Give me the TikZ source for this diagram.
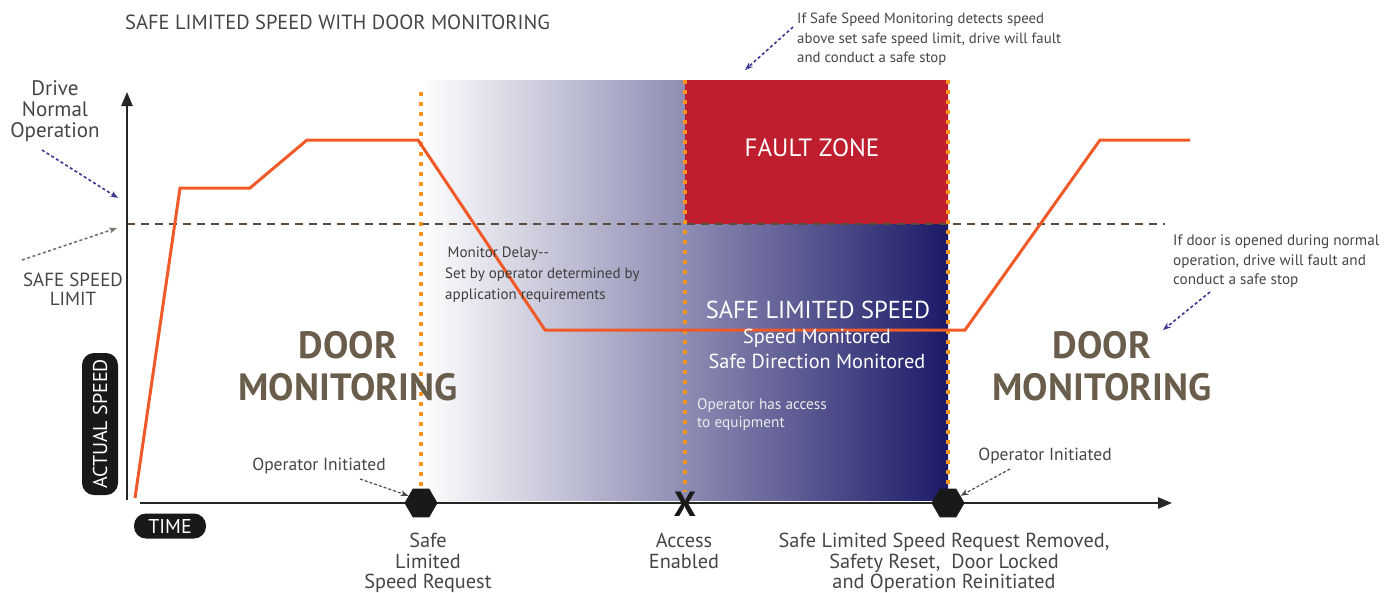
\documentclass[tikz,border=0pt]{standalone}
\usepackage{fontspec}
\setmainfont{PT Sans}
\usetikzlibrary{arrows.meta,shapes.geometric}
\definecolor{speedor}{HTML}{F05A28}
\definecolor{dotor}{HTML}{F7941D}
\definecolor{navy}{HTML}{1C1A68}
\definecolor{midpur}{HTML}{7F77A8}
\definecolor{faultred}{HTML}{BE1E2D}
\definecolor{txtgray}{HTML}{454545}
\definecolor{doorbrown}{HTML}{6B5D4C}
\definecolor{limbrown}{HTML}{5B4B3E}
\definecolor{annblue}{HTML}{3A3590}
\newcommand{\fs}[2]{\fontsize{#1pt}{#2pt}\selectfont}
\begin{document}
\begin{tikzpicture}[x=1pt,y=-1pt,
  lbl/.style={text=txtgray, align=center, inner sep=0pt},
  lbll/.style={text=txtgray, align=left, inner sep=0pt, anchor=north west},
  whitetxt/.style={text=white, align=center, inner sep=0pt},
  door/.style={text=doorbrown, align=center, inner sep=0pt, font=\fs{38}{42}\bfseries},
  vdots/.style={dotor, line width=4pt, dash pattern=on 4pt off 6pt},
  axis/.style={black!85, line width=2.5pt, -{Triangle[length=14pt,width=11pt]}},
  ann/.style={annblue, line width=1.6pt, dash pattern=on 3pt off 2.5pt, -{Stealth[length=8pt,width=6pt]}},
  annb/.style={limbrown!80, line width=1.6pt, dash pattern=on 3pt off 2.5pt, -{Stealth[length=8pt,width=6pt]}},
  anng/.style={black!70, line width=1.2pt, dash pattern=on 3pt off 2pt, -{Stealth[length=8pt,width=6pt]}},
  hexa/.style={regular polygon, regular polygon sides=6, fill=black!90, minimum size=33pt, inner sep=0pt},
  pill/.style={fill=black!90, text=white, rounded corners=12pt, inner sep=0pt, font=\fs{20}{22}}
]
\useasboundingbox (0,0) rectangle (1384,592);
% shaded zone
\shade[left color=white, middle color=midpur, right color=navy] (421,80) rectangle (948,500);
\fill[faultred] (685,80) rectangle (948,224);
% safe speed limit
\draw[limbrown, line width=2pt, dash pattern=on 8pt off 6pt] (127,224) -- (1165,224);
% vertical dotted lines
\draw[vdots] (421,92) -- (421,490);
\draw[vdots] (685,80) -- (685,492);
\draw[vdots] (948,80) -- (948,490);
% axes
\coordinate (yb) at (127,500);
\coordinate (yt) at (127,92);
\coordinate (xl) at (140,503);
\coordinate (xr) at (1172,503);
\draw[axis] (yb) -- (yt);
\draw[axis] (xl) -- (xr);
% speed curve
\draw[speedor, line width=3pt, line join=miter] (135,498) -- (180,188) -- (250,188) -- (307,140) -- (418,140) -- (545,330) -- (965,330) -- (1100,140) -- (1190,140);
% texts
\node[anchor=west, text=txtgray, inner sep=0pt, font=\fs{20.5}{24}] (title) at (125,22) {SAFE LIMITED SPEED WITH DOOR MONITORING};
\node[lbl, font=\fs{21}{21}] (drive) at (55,111) {Drive\\Normal\\Operation};
\node[lbl, font=\fs{19}{19}] (ssl) at (73,289) {SAFE SPEED\\LIMIT};
\coordinate (a1e) at (118,198);
\coordinate (a2e) at (117,228);
\draw[ann] (42,150) -- (a1e);
\draw[annb] (22,260) -- (a2e);
\node[whitetxt, font=\fs{25}{28}] (fault) at (812,148) {FAULT ZONE};
\node[whitetxt, font=\fs{24.5}{28}] (slsa) at (818,310) {SAFE LIMITED SPEED};
\node[whitetxt, font=\fs{20.3}{25}] (slsb) at (817,349) {Speed Monitored\\Safe Direction Monitored};
\node[lbll, font=\fs{15}{21}, text=txtgray!90!black] (delay) at (445,247) {\,Monitor Delay-{}-\\Set by operator determined by\\application requirements};
\node[lbll, font=\fs{15.3}{18}, text=white!92!black] (access) at (697,398) {Operator has access\\to equipment};
\node[door] (dm1) at (348,366) {DOOR\\MONITORING};
\node[door] (dm2) at (1102,366) {DOOR\\MONITORING};
\node[lbll, font=\fs{14.8}{19.5}] (topann) at (797,13) {If Safe Speed Monitoring detects speed\\above set safe speed limit, drive will fault\\and conduct a safe stop};
\coordinate (tae) at (745,70);
\draw[ann] (793,27) -- (tae);
\node[lbll, font=\fs{15.2}{19.5}] (rann) at (1173,235) {If door is opened during normal\\operation, drive will fault and\\conduct a safe stop};
\coordinate (rae) at (1163,330);
\draw[ann] (1210,292) -- (rae);
% markers
\node[hexa] (h1) at (421,503) {};
\node[hexa] (h2) at (948,503) {};
\node[text=black!90, inner sep=0pt, font=\fs{35}{35}\bfseries] (xm) at (685,504) {X};
\node[lbl, font=\fs{17.5}{18}] (op1) at (319,466) {Operator Initiated};
\node[lbl, font=\fs{17.5}{18}] (op2) at (1045,456) {Operator Initiated};
\draw[anng] (360,479) -- (h1.150);
\draw[anng] (1010,469) -- (h2.30);
\node[lbl, font=\fs{20.3}{20.5}, anchor=north] (b1) at (428,533) {Safe\\Limited\\Speed Request};
\node[lbl, font=\fs{20.3}{20.5}, anchor=north] (b2) at (684,533) {Access\\Enabled};
\node[lbl, font=\fs{20.3}{20.5}, anchor=north] (b3) at (944,533) {Safe Limited Speed Request Removed,\\Safety Reset,\ \ Door Locked\\and Operation Reinitiated};
% pills
\node[pill, minimum width=72pt, minimum height=25pt] (time) at (170,526) {TIME};
\node[pill, minimum width=36pt, minimum height=142pt] (aspd) at (100,424) {};
\node[text=white, rotate=90, inner sep=0pt, font=\fs{20}{22}] (aspdt) at (aspd) {ACTUAL SPEED};
\end{tikzpicture}
\end{document}
